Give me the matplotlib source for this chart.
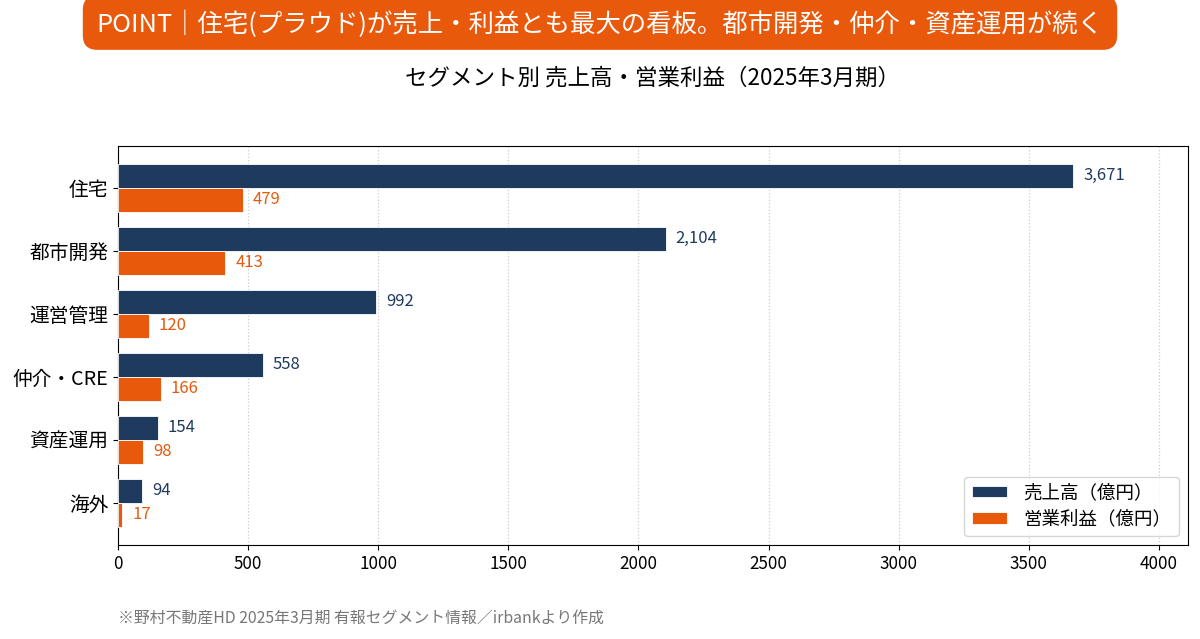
import matplotlib
matplotlib.use("Agg")
import matplotlib.pyplot as plt
from matplotlib.patches import FancyBboxPatch
import numpy as np

plt.rcParams['font.family'] = ['Noto Sans CJK JP', 'DejaVu Sans']

# data (億円)
segments = ["住宅", "都市開発", "運営管理", "仲介・CRE", "資産運用", "海外"]
sales = [3671, 2104, 992, 558, 154, 94]
op_profit = [479, 413, 120, 166, 98, 17]

NAVY = "#1f3a5f"
ORANGE = "#e8590c"

fig = plt.figure(figsize=(12, 6.39), dpi=100)
ax = fig.add_axes([0.0983, 0.147, 0.8917, 0.625])

y = np.arange(len(segments))
h = 0.38
ax.barh(y - h / 2, sales, height=h, color=NAVY, edgecolor="white",
        linewidth=0.6, label="売上高（億円）", zorder=3)
ax.barh(y + h / 2, op_profit, height=h, color=ORANGE, edgecolor="white",
        linewidth=0.6, label="営業利益（億円）", zorder=3)

for yi, v in zip(y, sales):
    ax.annotate(f"{v:,}", (v, yi - h / 2), xytext=(7, 0),
                textcoords="offset points", va="center", ha="left",
                fontsize=12, color=NAVY)
for yi, v in zip(y, op_profit):
    ax.annotate(f"{v:,}", (v, yi + h / 2), xytext=(7, 0),
                textcoords="offset points", va="center", ha="left",
                fontsize=12, color=ORANGE)

ax.set_yticks(y)
ax.set_yticklabels(segments, fontsize=14.2)
ax.invert_yaxis()
ax.set_xlim(0, max(sales) * 1.12)
ax.set_xticks([0, 500, 1000, 1500, 2000, 2500, 3000, 3500, 4000])
ax.tick_params(axis="x", labelsize=12.3)
ax.grid(axis="x", linestyle=":", color="#cccccc", linewidth=0.9, zorder=0)
ax.set_axisbelow(True)

ax.legend(loc="lower right", fontsize=13.3, frameon=True, borderpad=0.4,
          handlelength=1.9, handleheight=0.6, labelspacing=0.45,
          handletextpad=0.9, borderaxespad=0.5)

# subtitle centred over the axes
ax.text(0.5, 1.0, "セグメント別 売上高・営業利益（2025年3月期）",
        transform=ax.transAxes, ha="center", va="center", fontsize=16.2)
ax.texts[-1].set_y(1.0 + (0.878 - 0.772) / 0.625)

# headline banner
banner = FancyBboxPatch((0.069, 0.922), 0.862, 0.085,
                        boxstyle="round,pad=0,rounding_size=0.012",
                        transform=fig.transFigure, facecolor=ORANGE,
                        edgecolor="none", mutation_aspect=1.9)
fig.patches.append(banner)
fig.text(0.5, 0.961, "POINT｜住宅(プラウド)が売上・利益とも最大の看板。都市開発・仲介・資産運用が続く",
         ha="center", va="center", fontsize=18.3, color="white")

fig.text(0.0983, 0.033, "※野村不動産HD 2025年3月期 有報セグメント情報／irbankより作成",
         ha="left", va="center", fontsize=11.4, color="#777777")

fig.savefig("out.png", dpi=100)
